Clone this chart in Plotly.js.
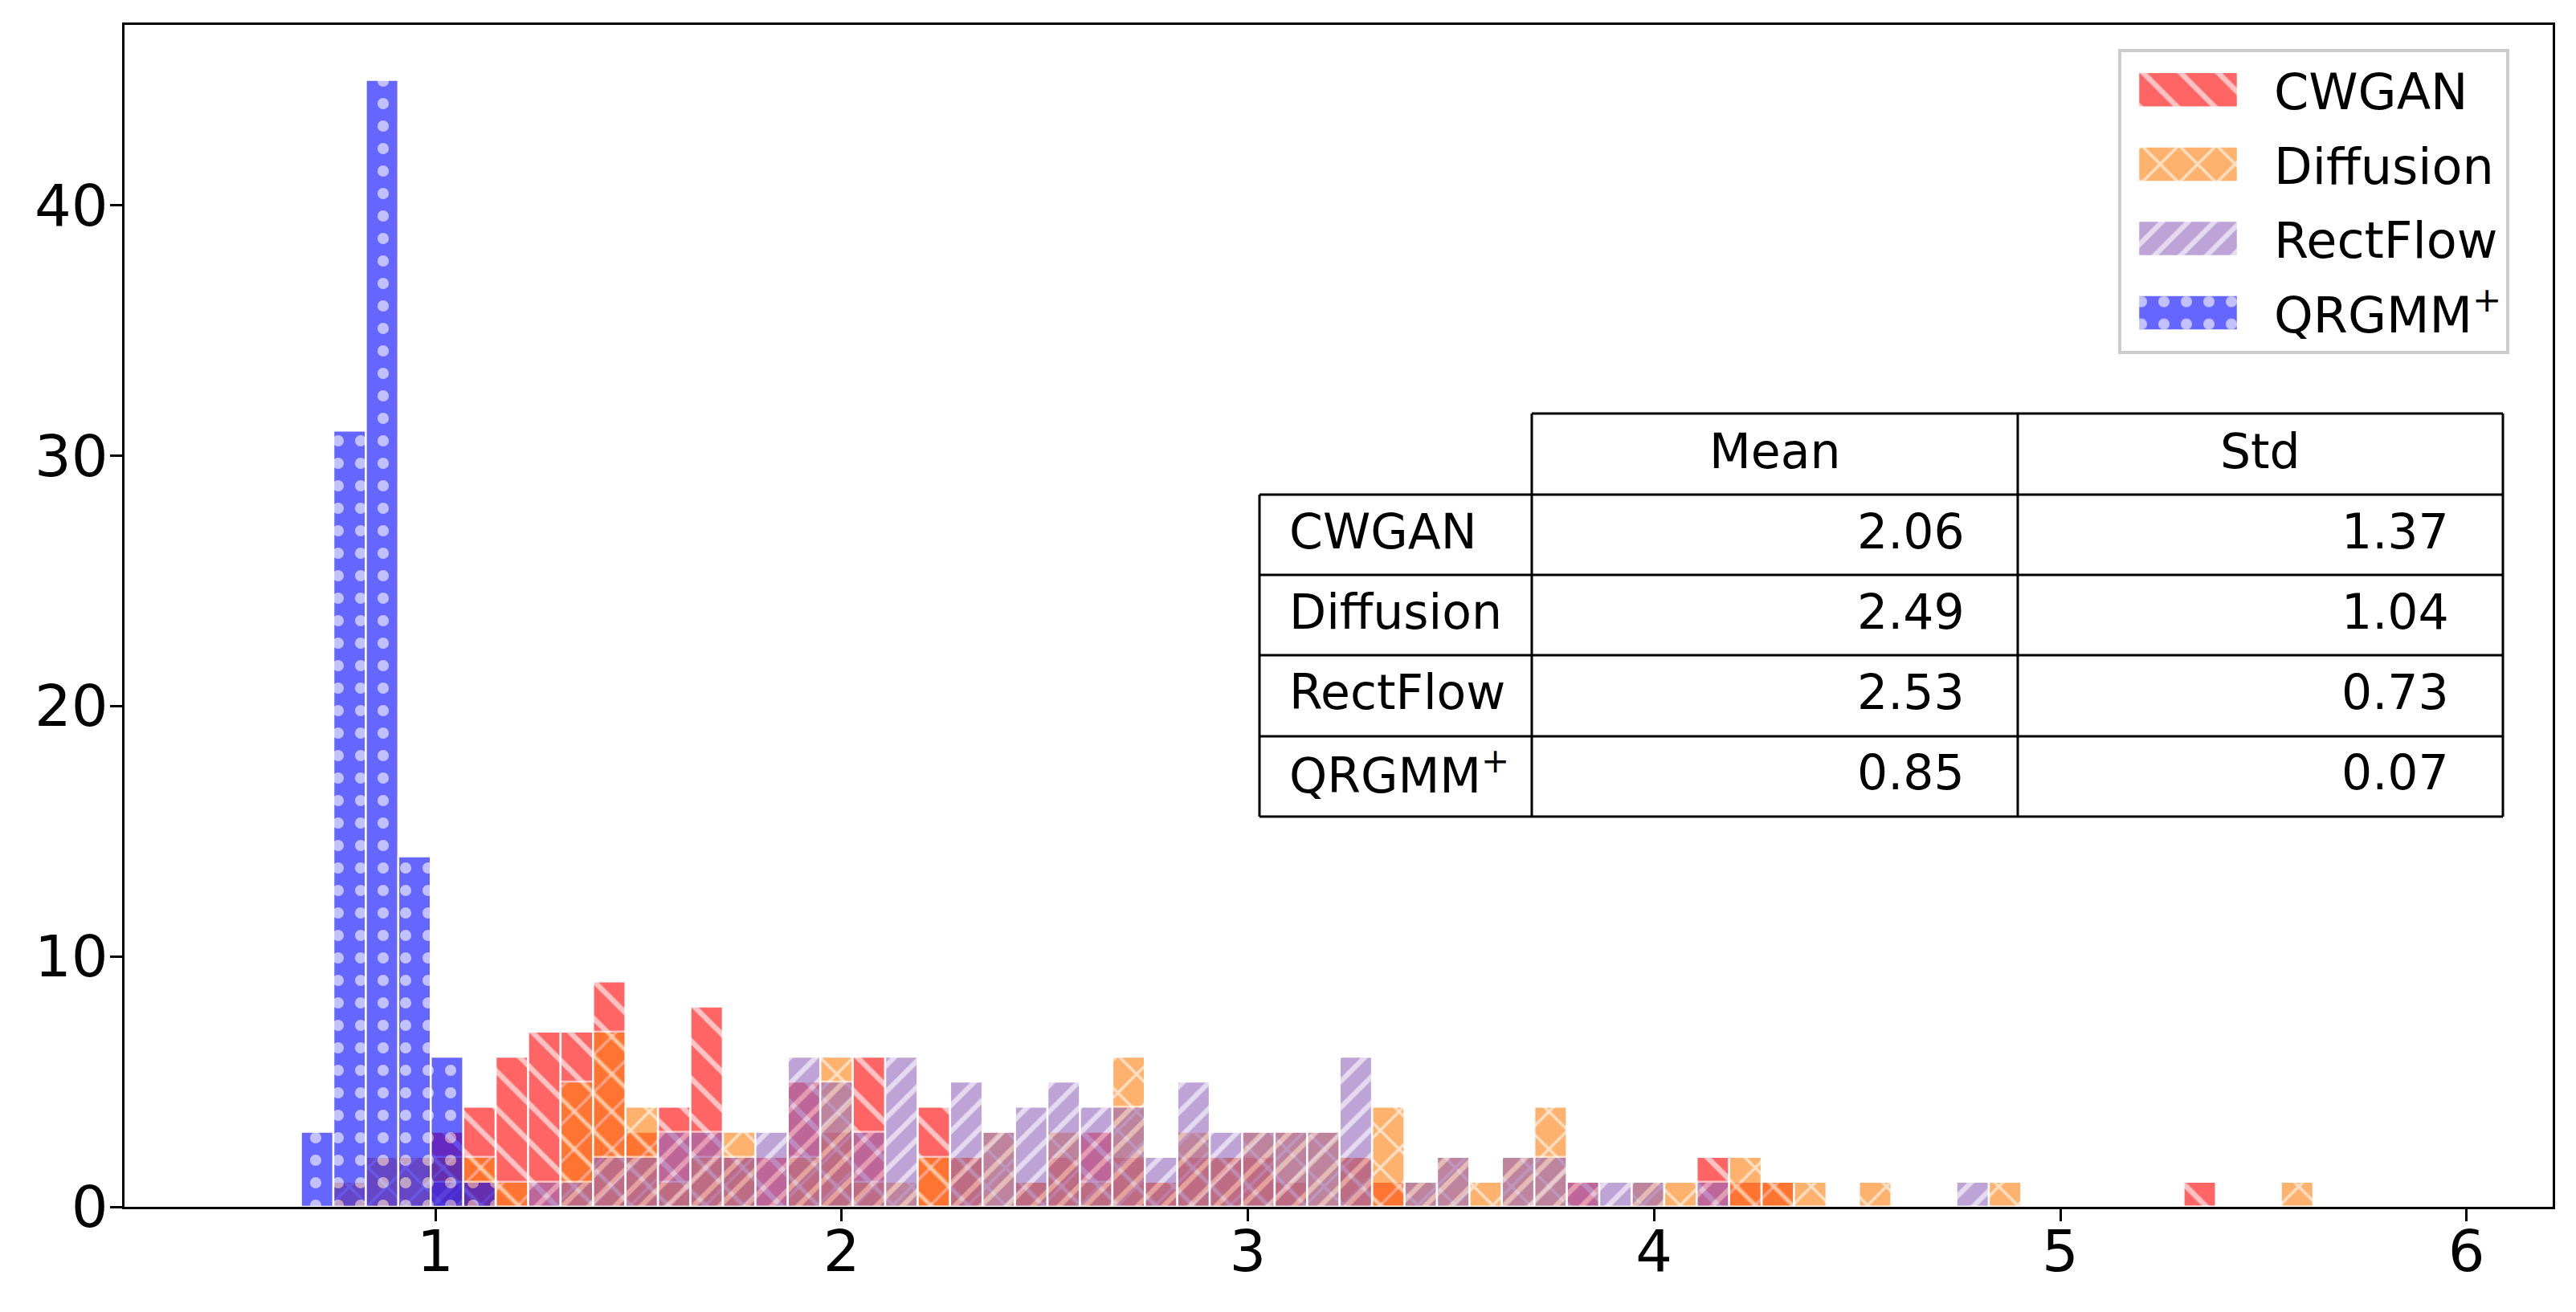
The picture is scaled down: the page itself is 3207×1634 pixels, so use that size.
<!DOCTYPE html>
<html>
<head>
<meta charset="utf-8">
<script src="https://cdn.plot.ly/plotly-3.0.1.min.js"></script>
<style>
  body { margin: 0; background: #ffffff; }
  #chart { width: 3207px; height: 1634px; }
</style>
</head>
<body>
<div id="chart"></div>
<script>
// histogram bins (common to all methods)
var binStart = 0.669;
var binWidth = 0.0799;

// counts per bin (100 samples per method)
var cwganCounts = [0,0,0,0,3,4,6,7,7,9,3,4,8,2,2,5,3,6,0,4,2,0,1,2,3,2,1,2,2,2,1,0,2,1,0,0,0,0,0,1,0,0,0,2,1,1,0,0,0,0,0,0,0,0,0,0,0,0,1,0,0,0,0];
var diffusionCounts = [0,1,2,2,2,2,1,0,5,7,4,1,2,3,0,2,6,1,1,2,2,3,1,3,1,6,1,3,2,3,3,3,2,4,1,2,1,2,4,0,0,1,1,0,2,1,1,0,1,0,0,0,1,0,0,0,0,0,0,0,0,1,0];
var rectflowCounts = [0,0,0,0,1,0,0,1,1,2,2,3,3,2,3,6,5,3,6,0,5,3,4,5,4,4,2,5,3,3,3,3,6,0,1,2,0,2,2,1,1,1,0,1,0,0,0,0,0,0,0,1,0,0,0,0,0,0,0,0,0,0,0];
var qrgmmCounts = [3,31,45,14,6,1,0,0,0,0,0,0,0,0,0,0,0,0,0,0,0,0,0,0,0,0,0,0,0,0,0,0,0,0,0,0,0,0,0,0,0,0,0,0,0,0,0,0,0,0,0,0,0,0,0,0,0,0,0,0,0,0,0];

var seriesNames = ['CWGAN', 'Diffusion', 'RectFlow', 'QRGMM<sup>+</sup>'];
var seriesCounts = [cwganCounts, diffusionCounts, rectflowCounts, qrgmmCounts];

// summary table
var tableCols = ['Mean', 'Std'];
var meanVals = ['2.06', '2.49', '2.53', '0.85'];
var stdVals = ['1.37', '1.04', '0.73', '0.07'];

var xTicks = [1, 2, 3, 4, 5, 6];
var yTicks = [0, 10, 20, 30, 40];

// styles
var colors = ['rgb(255,0,0)', 'rgb(255,127,14)', 'rgb(148,103,189)', 'rgb(0,0,255)'];
var hatches = ['\\', 'x', '/', '.'];
var hatchSize = [33, 33, 23, 28];
var hatchSolid = [0.2, 0.2, 0.27, 0.2];

var binCenters = [];
for (var i = 0; i < cwganCounts.length; i++) {
  binCenters.push(binStart + (i + 0.5) * binWidth);
}

var data = [];
for (var s = 0; s < seriesNames.length; s++) {
  data.push({
    type: 'bar',
    name: seriesNames[s],
    legendgroup: 'g' + s,
    x: binCenters,
    y: seriesCounts[s],
    width: binWidth,
    marker: {
      color: colors[s],
      opacity: 0.6,
      line: { color: 'white', width: 2.5 },
      pattern: { shape: hatches[s], size: hatchSize[s], solidity: hatchSolid[s], fgcolor: 'white', fgopacity: 0.6, bgcolor: colors[s] }
    }
  });
}

// pixel -> paper helpers for the table
var plotL = 155, plotT = 31, plotW = 3023, plotH = 1472;
function px(x) { return (x - plotL) / plotW; }
function py(y) { return 1 - (y - plotT) / plotH; }

var tblL = 1568, col1 = 1907, col2 = 2512, tblR = 3116;
var rowLines = [515, 616, 716, 816, 917, 1017];
var rowMid = [562, 662, 762, 862, 962];

var shapes = [];
function hline(x0, x1, y) {
  shapes.push({ type: 'line', xref: 'paper', yref: 'paper', x0: px(x0), x1: px(x1), y0: py(y), y1: py(y), line: { color: 'black', width: 3 } });
}
function vline(x, y0, y1) {
  shapes.push({ type: 'line', xref: 'paper', yref: 'paper', x0: px(x), x1: px(x), y0: py(y0), y1: py(y1), line: { color: 'black', width: 3 } });
}
hline(col1, tblR, rowLines[0]);
for (var r = 1; r < rowLines.length; r++) hline(tblL, tblR, rowLines[r]);
vline(tblL, rowLines[1], rowLines[5]);
vline(col1, rowLines[0], rowLines[5]);
vline(col2, rowLines[0], rowLines[5]);
vline(tblR, rowLines[0], rowLines[5]);

var annotations = [];
var tfont = { family: 'DejaVu Sans', size: 60, color: 'black' };
function addText(txt, x, y, anchor) {
  annotations.push({ xref: 'paper', yref: 'paper', x: px(x), y: py(y), text: txt, showarrow: false, xanchor: anchor, yanchor: 'middle', font: tfont });
}
addText(tableCols[0], (col1 + col2) / 2, rowMid[0], 'center');
addText(tableCols[1], (col2 + tblR) / 2, rowMid[0], 'center');
for (var k = 0; k < seriesNames.length; k++) {
  addText(seriesNames[k], tblL + 35, rowMid[k + 1], 'left');
  addText(meanVals[k], col2 - 64, rowMid[k + 1], 'right');
  addText(stdVals[k], tblR - 65, rowMid[k + 1], 'right');
}

var layout = {
  width: 3207, height: 1634,
  margin: { l: plotL, r: 29, t: plotT, b: 131 },
  paper_bgcolor: 'white', plot_bgcolor: 'white',
  font: { family: 'DejaVu Sans', size: 72, color: 'black' },
  barmode: 'overlay',
  bargap: 0,
  showlegend: true,
  legend: {
    x: px(2637), y: py(61), xanchor: 'left', yanchor: 'top',
    bgcolor: 'white', bordercolor: '#cccccc', borderwidth: 4,
    font: { family: 'DejaVu Sans', size: 62, color: 'black' },
    itemwidth: 180, tracegroupgap: 9
  },
  xaxis: {
    range: [0.2348, 6.212], tickvals: xTicks, ticktext: xTicks.map(String),
    showgrid: false, zeroline: false, showline: true, mirror: true,
    linecolor: 'black', linewidth: 3, ticks: 'outside', ticklen: 15, tickwidth: 3, tickcolor: 'black',
    ticklabelstandoff: -24
  },
  yaxis: {
    range: [0, 47.2], tickvals: yTicks, ticktext: yTicks.map(String),
    showgrid: false, zeroline: false, showline: true, mirror: true,
    linecolor: 'black', linewidth: 3, ticks: 'outside', ticklen: 15, tickwidth: 3, tickcolor: 'black',
    ticklabelstandoff: -12
  },
  shapes: shapes,
  annotations: annotations
};

Plotly.newPlot('chart', data, layout, { staticPlot: true }).then(function(gd) {
  // make the legend swatches wide like the original and reuse the plot hatch
  var legendItems = gd.querySelectorAll('.legend .traces');
  var traces = gd.querySelectorAll('.barlayer .trace');
  legendItems.forEach(function(item, i) {
    var sw = item.querySelectorAll('.legendpoints path');
    var fill = null;
    var bars = traces[i] ? traces[i].querySelectorAll('path') : [];
    for (var b = 0; b < bars.length; b++) {
      var f = bars[b].style.fill;
      if (f && f.indexOf('url') >= 0) { fill = f; break; }
    }
    sw.forEach(function(p) {
      p.setAttribute('d', 'M-74,-22H50V22H-74Z');
      if (fill) p.style.fill = fill;
      p.style.opacity = 0.6;
    });
  });
});
</script>
</body>
</html>
